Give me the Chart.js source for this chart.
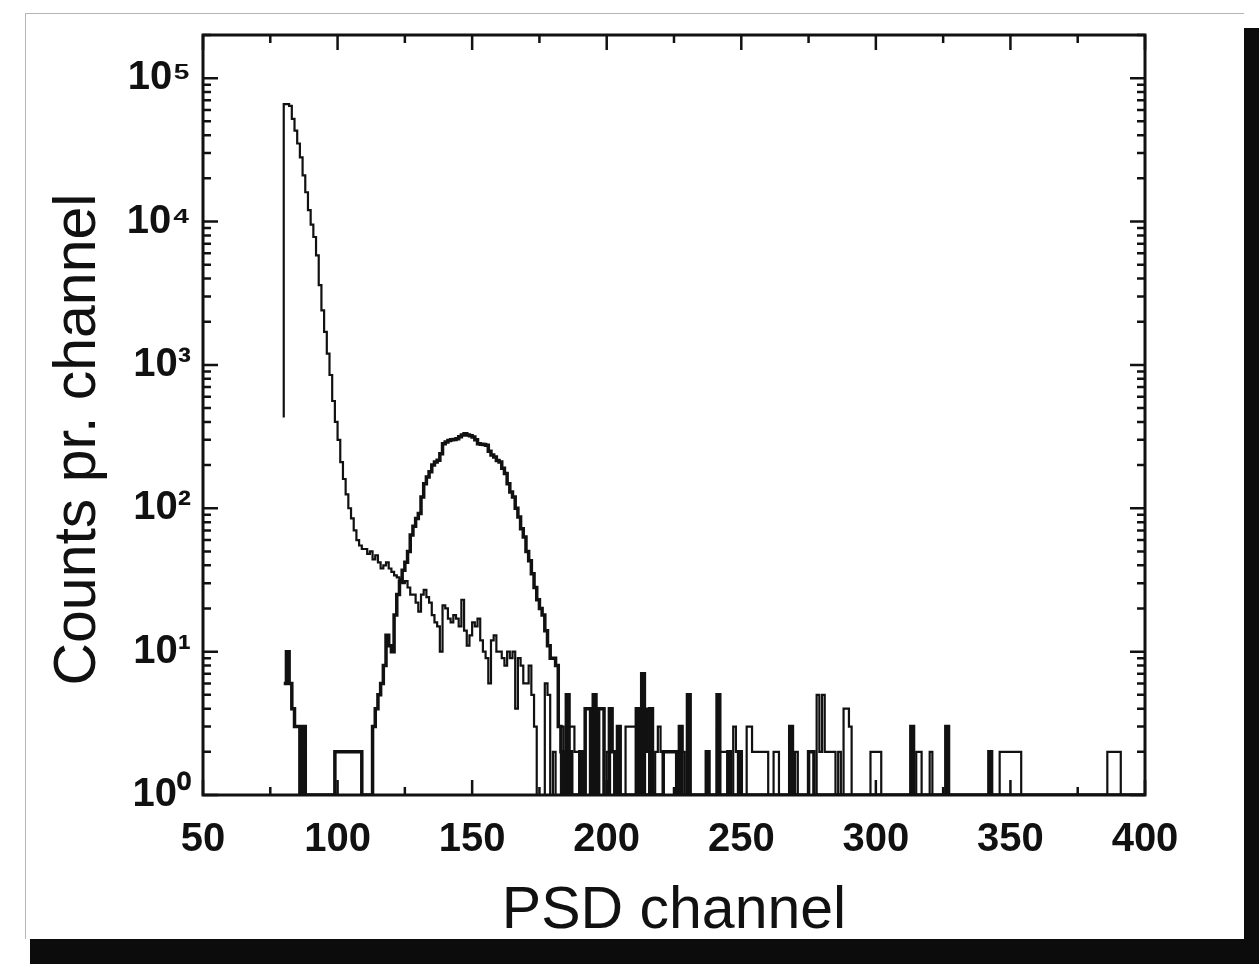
<!DOCTYPE html>
<html>
<head>
<meta charset="utf-8">
<title>PSD channel spectrum</title>
<script src="https://cdn.jsdelivr.net/npm/chart.js@4.4.1/dist/chart.umd.min.js"></script>
<style>
  html, body { margin: 0; padding: 0; background: #fff; }
  body { width: 1259px; height: 968px; position: relative; overflow: hidden; }
  .card {
    position: absolute; left: 25px; top: 13px; width: 1218px; height: 925px;
    border-left: 1px solid #b5b5b5; border-top: 1px solid #b5b5b5;
    box-shadow: 10px 20px 0 5px #0c0c0c; background: #fff;
  }
  #chart { position: absolute; left: 0; top: 0; }
</style>
</head>
<body>
<div class="card"></div>
<canvas id="chart" width="1259" height="968"></canvas>
<script>
/* global Chart */

// thin trace: counts per channel starting at gammaStart
const gammaStart = 80
const gammaEdge = 430
const gammaCounts = [
  66000, 66000, 64000, 52000, 43000, 35000, 28000, 21000, 16000, 12000, // 80-89
  9500, 7800, 5800, 3600, 2400, 1700, 1200, 850, 560, 400, // 90-99
  300, 210, 160, 125, 100, 85, 70, 60, 55, 52, // 100-109
  52, 48, 50, 44, 47, 42, 38, 40, 42, 38, // 110-119
  36, 34, 33, 32, 30, 31, 28, 25, 25, 22, // 120-129
  19, 25, 27, 24, 22, 18, 16, 15, 10, 21, // 130-139
  20, 17, 16, 18, 17, 15, 23, 14, 11, 13, // 140-149
  16, 15, 17, 12, 10, 9, 6, 12, 13, 10, // 150-159
  10, 9, 8, 10, 9, 10, 4, 9, 8, 6, // 160-169
  6, 8, 5, 3, 1 // 170-174
]
// sparse tail of the thin trace: [channel, counts]
const gammaTail = [
  [177, 6], [178, 5], [180, 2], [183, 3], [184, 2], [186, 3], [187, 3], [188, 2], [189, 2],
  [195, 5], [196, 2], [200, 2], [207, 3], [208, 3], [209, 3], [210, 3], [211, 2], [214, 4],
  [215, 2], [218, 2], [219, 3], [220, 2], [226, 2], [227, 2], [228, 2], [241, 3], [242, 2],
  [243, 2], [244, 2], [247, 3], [248, 2], [252, 3], [253, 3], [254, 2], [255, 2], [256, 2],
  [257, 2], [258, 2], [259, 2], [262, 2], [263, 2], [270, 2], [278, 5], [279, 2], [280, 5],
  [281, 2], [282, 2], [283, 2], [284, 2], [286, 2], [288, 4], [289, 4], [290, 3], [298, 2],
  [299, 2], [300, 2], [301, 2], [315, 2], [316, 2], [320, 2], [346, 2], [347, 2], [348, 2],
  [349, 2], [350, 2], [351, 2], [352, 2], [353, 2], [386, 2], [387, 2], [388, 2], [389, 2],
  [390, 2]
]

// thick trace: counts per channel starting at neutronStart
const neutronStart = 80
const neutronCounts = [
  6, 10, 6, 4, 3, 3, 1, 3, 1, 1, // 80-89
  1, 1, 1, 1, 1, 1, 1, 1, 1, 2, // 90-99
  2, 2, 2, 2, 2, 2, 2, 2, 2, 1, // 100-109
  1, 1, 1, 3, 4, 5, 6, 8, 13, 11, // 110-119
  10, 18, 25, 31, 37, 42, 50, 65, 75, 85, // 120-129
  92, 120, 148, 165, 180, 200, 210, 216, 240, 282, // 130-139
  290, 297, 300, 302, 305, 315, 325, 331, 325, 320, // 140-149
  314, 300, 282, 280, 278, 275, 250, 235, 228, 215, // 150-159
  210, 190, 175, 148, 130, 120, 100, 87, 72, 63, // 160-169
  50, 43, 35, 28, 23, 20, 18, 14, 11, 9, // 170-179
  9, 8, 3, 2 // 180-183
]
const neutronTail = [
  [185, 5], [186, 2], [190, 2], [192, 4], [193, 4], [195, 5], [197, 4], [198, 4], [201, 4],
  [202, 2], [204, 3], [211, 4], [213, 7], [216, 4], [221, 2], [222, 2], [223, 2], [224, 2],
  [225, 2], [227, 3], [230, 5], [237, 2], [241, 5], [245, 2], [249, 2], [268, 3], [275, 2],
  [276, 2], [313, 3], [326, 3], [342, 2]
]

const lastChannel = 400
const xTicks = [50, 100, 150, 200, 250, 300, 350, 400]
const yDecades = [1, 10, 100, 1000, 10000, 100000]
const superscripts = ['\u2070', '\u00b9', '\u00b2', '\u00b3', '\u2074', '\u2075']

// histogram points for a stepped line: value of bin c drawn between c and c + 1
function buildSteps (start, counts, tail, edge) {
  const tailMap = new Map(tail)
  const points = [{ x: start, y: edge }]
  for (let ch = start; ch < lastChannel; ch++) {
    const i = ch - start
    let n = 1
    if (i < counts.length) n = counts[i]
    else if (tailMap.has(ch)) n = tailMap.get(ch)
    points.push({ x: ch + 1, y: Math.max(n, 1) })
  }
  return points
}

const gammaPoints = buildSteps(gammaStart, gammaCounts, gammaTail, gammaEdge)
const neutronPoints = buildSteps(neutronStart, neutronCounts, neutronTail, neutronCounts[0])

// frame with inward major/minor ticks on all four sides
const frameTicks = {
  id: 'frameTicks',
  afterDatasetsDraw (chart) {
    const { ctx, chartArea: area, scales } = chart
    const x = scales.x
    const y = scales.y
    ctx.save()
    ctx.strokeStyle = '#111'
    ctx.lineCap = 'butt'
    ctx.lineWidth = 2.5
    ctx.beginPath()
    for (let v = x.min; v <= x.max; v += 25) {
      const px = x.getPixelForValue(v)
      const len = v % 50 === 0 ? 15 : 8
      ctx.moveTo(px, area.bottom)
      ctx.lineTo(px, area.bottom - len)
      ctx.moveTo(px, area.top)
      ctx.lineTo(px, area.top + len)
    }
    for (const d of yDecades) {
      for (let m = 1; m <= 9; m++) {
        const v = m * d
        if (v > y.max) break
        const py = y.getPixelForValue(v)
        const len = m === 1 ? 15 : 8
        ctx.moveTo(area.left, py)
        ctx.lineTo(area.left + len, py)
        ctx.moveTo(area.right, py)
        ctx.lineTo(area.right - len, py)
      }
    }
    ctx.stroke()
    ctx.lineWidth = 3
    ctx.strokeRect(area.left, area.top, area.right - area.left, area.bottom - area.top)
    ctx.restore()
  }
}

const tickFont = { family: 'Liberation Sans', size: 40, weight: 'bold' }
const titleFont = { family: 'Liberation Sans', size: 59 }

const chart = new Chart(document.getElementById('chart'), {
  type: 'line',
  data: {
    datasets: [
      {
        label: 'thin',
        data: gammaPoints,
        borderColor: '#111',
        borderWidth: 2.2,
        stepped: 'after',
        pointRadius: 0,
        fill: false
      },
      {
        label: 'thick',
        data: neutronPoints,
        borderColor: '#111',
        borderWidth: 3.5,
        stepped: 'after',
        pointRadius: 0,
        fill: false
      }
    ]
  },
  options: {
    responsive: false,
    animation: false,
    events: [],
    layout: { padding: { left: 43, top: 35, right: 114, bottom: 21 } },
    plugins: {
      legend: { display: false },
      tooltip: { enabled: false }
    },
    scales: {
      x: {
        type: 'linear',
        min: 50,
        max: 400,
        afterBuildTicks (scale) {
          scale.ticks = xTicks.map((v) => ({ value: v }))
        },
        grid: { display: false },
        border: { display: false },
        ticks: { padding: 13, color: '#111', font: tickFont, autoSkip: false, maxRotation: 0 },
        title: { display: true, text: 'PSD channel', color: '#111', font: titleFont, padding: 0 },
        afterFit (scale) {
          scale.height = 152
        }
      },
      y: {
        type: 'logarithmic',
        min: 1,
        max: 200000,
        afterBuildTicks (scale) {
          scale.ticks = yDecades.map((v) => ({ value: v }))
        },
        grid: { display: false },
        border: { display: false },
        ticks: {
          padding: 4,
          color: '#111',
          font: tickFont,
          autoSkip: false,
          callback: (value) => '10' + superscripts[Math.round(Math.log10(value))]
        },
        // trailing spaces shift the centred title down to where the original sits
        title: { display: true, text: 'Counts pr. channel   ', color: '#111', font: titleFont, padding: 0 },
        afterFit (scale) {
          scale.width = 160
        }
      }
    }
  },
  plugins: [frameTicks]
})
</script>
</body>
</html>
